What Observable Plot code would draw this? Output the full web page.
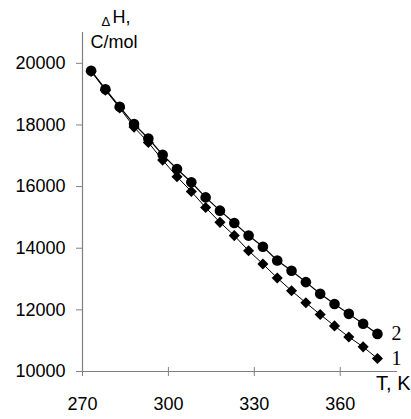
<!DOCTYPE html>
<html><head><meta charset="utf-8">
<script src="https://cdn.jsdelivr.net/npm/d3@7"></script>
<script src="https://cdn.jsdelivr.net/npm/@observablehq/plot@0.6"></script>
<style>body{margin:0;background:#fff;}</style>
</head><body><div id="chart"></div>
<script>
const temps = [273,278,283,288,293,298,303,308,313,318,323,328,333,338,343,348,353,358,363,368,373];
const series1 = [19740,19130,18550,17930,17430,16860,16320,15840,15320,14840,14410,13920,13490,13035,12620,12230,11850,11480,11120,10800,10420];
const series2 = [19760,19160,18590,18030,17560,17030,16570,16140,15650,15220,14820,14410,14050,13600,13270,12900,12520,12190,11870,11550,11220];
const xTicks = [270,300,330,360];
const yTicks = [10000,12000,14000,16000,18000,20000];
const xDomain = [270,380];
const yDomain = [10000,21000];
const seriesNames = ["1","2"];
const yTitle1 = "H,";
const yTitleDelta = "Δ";
const yTitle2 = "C/mol";
const xTitle = "T, K";

const d1 = temps.map((t,i)=>({T:t, H:series1[i]}));
const d2 = temps.map((t,i)=>({T:t, H:series2[i]}));
const axisGray = "#808080";
const sans = "Liberation Sans, Arial, sans-serif";
const serif = "Liberation Serif, Times New Roman, serif";

const chart = Plot.plot({
  width: 411, height: 419,
  marginLeft: 82, marginRight: 14, marginTop: 32, marginBottom: 48,
  style: {fontFamily: sans, fontSize: "18px", background: "#fff", color: "#000"},
  x: {domain: xDomain},
  y: {domain: yDomain},
  marks: [
    Plot.ruleX([xDomain[0]], {stroke: axisGray, strokeWidth: 1.2}),
    Plot.ruleY([yDomain[0]], {stroke: axisGray, strokeWidth: 1.2}),
    Plot.axisY(yTicks, {tickSize: 6, tickPadding: 11, stroke: axisGray, fill: "#000", fontSize: 18, label: null, tickFormat: d => String(d)}),
    Plot.axisX(xTicks, {tickSize: 9, dy: -4, tickPadding: 21, stroke: axisGray, fill: "#000", fontSize: 18, label: null, tickFormat: d => String(d)}),
    Plot.line(d1, {x: "T", y: "H", stroke: "#000", strokeWidth: 1}),
    Plot.line(d2, {x: "T", y: "H", stroke: "#000", strokeWidth: 1.2}),
    Plot.dot(d1, {x: "T", y: "H", symbol: "diamond2", r: 5, fill: "#000", stroke: "none"}),
    Plot.dot(d2, {x: "T", y: "H", symbol: "circle", r: 5.3, fill: "#000", stroke: "none"}),
    Plot.text([d1[d1.length-1]], {x: "T", y: "H", text: () => seriesNames[0], dx: 14, textAnchor: "start", fontFamily: serif, fontSize: 20}),
    Plot.text([d2[d2.length-1]], {x: "T", y: "H", text: () => seriesNames[1], dx: 14, textAnchor: "start", fontFamily: serif, fontSize: 20}),
    Plot.text([yTitleDelta], {text: d => d, frameAnchor: "top-left", dx: 19, dy: -7, textAnchor: "start", lineAnchor: "bottom", fontSize: 13}),
    Plot.text([yTitle1], {text: d => d, frameAnchor: "top-left", dx: 30, dy: -9.5, textAnchor: "start", lineAnchor: "bottom", fontSize: 18}),
    Plot.text([yTitle2], {text: d => d, frameAnchor: "top-left", dx: 8, dy: 15, textAnchor: "start", lineAnchor: "bottom", fontSize: 18}),
    Plot.text([xTitle], {text: d => d, frameAnchor: "bottom-right", dx: 13, dy: 4, textAnchor: "end", lineAnchor: "top", fontSize: 20})
  ]
});
document.getElementById("chart").appendChild(chart);
</script>
</body></html>
